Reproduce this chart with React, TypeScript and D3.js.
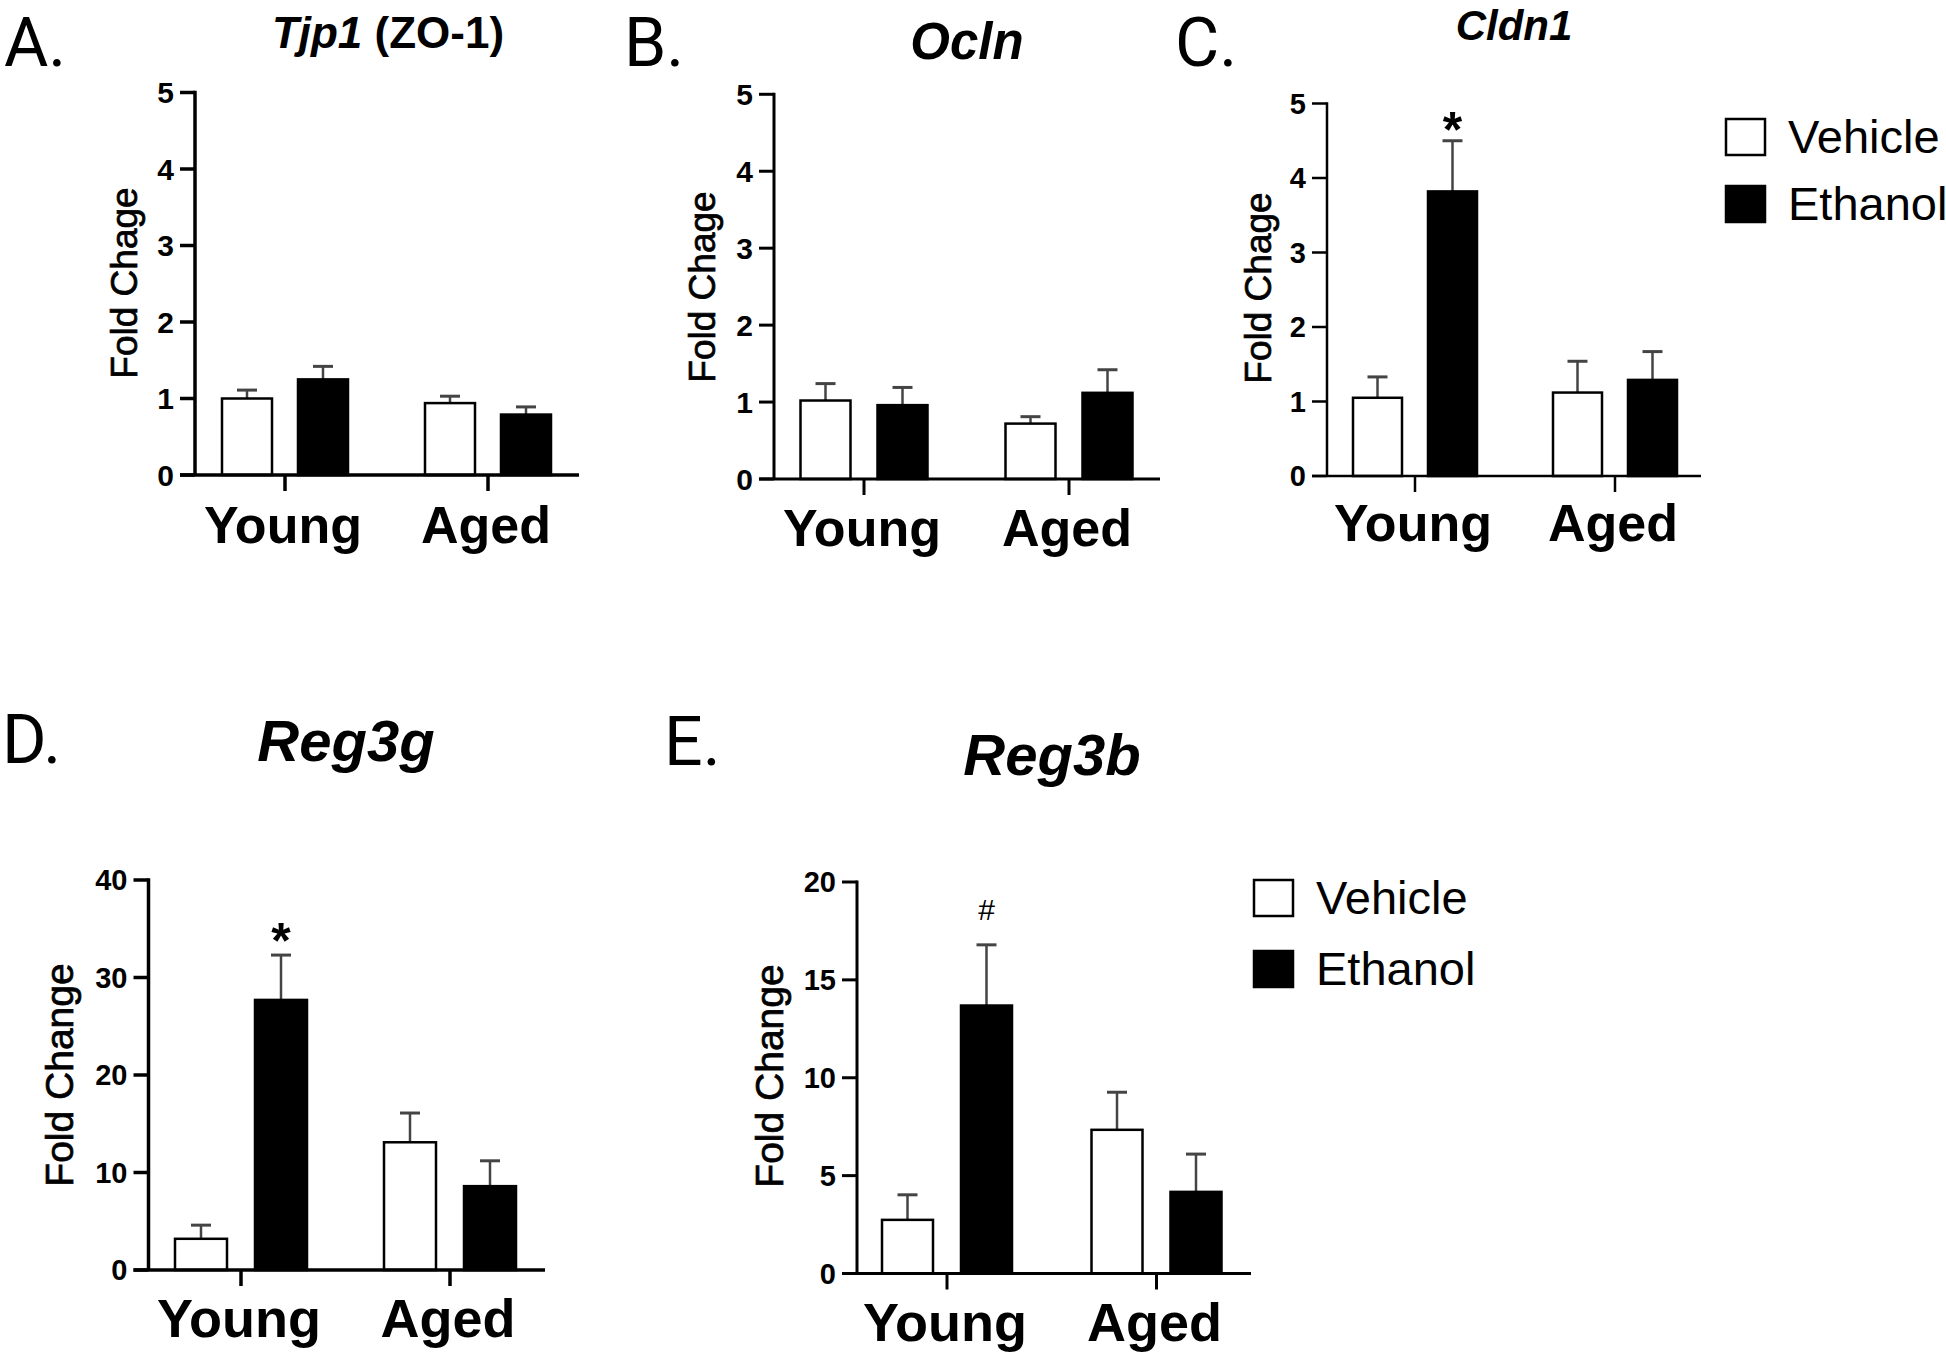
import React from "react";
import * as d3 from "d3";

// ---------- data ----------
const groups = ["Young", "Aged"];
const treatments = ["Vehicle", "Ethanol"];

const tjp1Vehicle = [1.0, 0.94];
const tjp1VehicleErr = [0.11, 0.09];
const tjp1Ethanol = [1.25, 0.79];
const tjp1EthanolErr = [0.17, 0.1];

const oclnVehicle = [1.02, 0.72];
const oclnVehicleErr = [0.22, 0.09];
const oclnEthanol = [0.96, 1.12];
const oclnEthanolErr = [0.23, 0.3];

const cldn1Vehicle = [1.05, 1.12];
const cldn1VehicleErr = [0.28, 0.42];
const cldn1Ethanol = [3.82, 1.29];
const cldn1EthanolErr = [0.68, 0.38];

const reg3gVehicle = [3.2, 13.1];
const reg3gVehicleErr = [1.4, 3.0];
const reg3gEthanol = [27.7, 8.6];
const reg3gEthanolErr = [4.6, 2.6];

const reg3bVehicle = [2.74, 7.34];
const reg3bVehicleErr = [1.28, 1.92];
const reg3bEthanol = [13.69, 4.17];
const reg3bEthanolErr = [3.1, 1.93];

const ticksSmall = [0, 1, 2, 3, 4, 5];
const ticksReg3g = [0, 10, 20, 30, 40];
const ticksReg3b = [0, 5, 10, 15, 20];

// ---------- styles ----------
const ARIAL = "'Liberation Sans', Arial, sans-serif";
const NARROW = "'Liberation Sans Narrow', 'Arial Narrow', 'Liberation Sans', Arial, sans-serif";
const LETTER = "Roboto, 'DejaVu Sans', sans-serif";
const ERR_COLOR = "#444";

type PanelProps = {
  vehicle: number[];
  vehicleErr: number[];
  ethanol: number[];
  ethanolErr: number[];
  ticks: number[];
  yLabel: string;
  axisX: number;
  y0: number;
  yTop: number;
  xRight: number;
  centers: [number, number];
  offset: number;
  barW: number;
  tickFont: number;
  catFont: number;
  catBaseline: number;
  labelX: number;
  labelY: number;
  labelFont: number;
  axisW: number;
  mark?: { text: string; series: number; group: number; font: number; weight: string; gap: number };
};

function Panel(p: PanelProps) {
  const y = d3
    .scaleLinear()
    .domain([0, p.ticks[p.ticks.length - 1]])
    .range([p.y0, p.yTop]);
  const xg = d3.scalePoint<string>().domain(groups).range(p.centers);
  const span = p.offset + p.barW / 2;
  const inner = d3
    .scaleBand<string>()
    .domain(treatments)
    .range([-span, span])
    .paddingInner((2 * p.offset - p.barW) / (2 * p.offset))
    .paddingOuter(0);
  const series = [
    { name: "Vehicle", values: p.vehicle, errs: p.vehicleErr, fill: "#fff" },
    { name: "Ethanol", values: p.ethanol, errs: p.ethanolErr, fill: "#000" },
  ];
  const tickLen = 15;
  const capW = 20;
  return (
    <g>
      {series.map((s) =>
        groups.map((g, gi) => {
          const x0 = (xg(g) as number) + (inner(s.name) as number);
          const bw = inner.bandwidth();
          const top = y(s.values[gi]);
          const errTop = y(s.values[gi] + s.errs[gi]);
          const cx = x0 + bw / 2;
          return (
            <g key={s.name + g}>
              <line x1={cx} x2={cx} y1={top} y2={errTop} stroke={ERR_COLOR} strokeWidth={2.5} />
              <line x1={cx - capW / 2} x2={cx + capW / 2} y1={errTop} y2={errTop} stroke={ERR_COLOR} strokeWidth={3} />
              <rect
                x={x0}
                y={top}
                width={bw}
                height={p.y0 - top}
                fill={s.fill}
                stroke="#000"
                strokeWidth={2.5}
              />
            </g>
          );
        })
      )}
      {p.mark &&
        (() => {
          const s = series[p.mark.series];
          const g = groups[p.mark.group];
          const cx = (xg(g) as number) + (inner(s.name) as number) + inner.bandwidth() / 2;
          const yy = y(s.values[p.mark.group] + s.errs[p.mark.group]) - p.mark.gap;
          return (
            <text x={cx} y={yy} textAnchor="middle" fontFamily={ARIAL} fontSize={p.mark.font} fontWeight={p.mark.weight}>
              {p.mark.text}
            </text>
          );
        })()}
      {/* y axis */}
      <line x1={p.axisX} x2={p.axisX} y1={p.y0} y2={y(p.ticks[p.ticks.length - 1]) - p.axisW / 2} stroke="#000" strokeWidth={p.axisW} />
      {p.ticks.map((t) => (
        <g key={t}>
          <line x1={p.axisX - tickLen} x2={p.axisX} y1={y(t)} y2={y(t)} stroke="#000" strokeWidth={p.axisW} />
          <text
            x={p.axisX - 21}
            y={y(t)}
            dy="0.36em"
            textAnchor="end"
            fontFamily={NARROW}
            fontWeight="bold"
            fontSize={p.tickFont}
          >
            {t}
          </text>
        </g>
      ))}
      {/* x axis */}
      <line x1={p.axisX - tickLen} x2={p.xRight} y1={p.y0} y2={p.y0} stroke="#000" strokeWidth={p.axisW} />
      {groups.map((g) => (
        <g key={g}>
          <line x1={xg(g)} x2={xg(g)} y1={p.y0} y2={p.y0 + 16} stroke="#000" strokeWidth={p.axisW} />
          <text
            x={(xg(g) as number) - 2}
            y={p.catBaseline}
            textAnchor="middle"
            fontFamily={ARIAL}
            fontWeight="bold"
            fontSize={p.catFont}
          >
            {g}
          </text>
        </g>
      ))}
      <text
        transform={`translate(${p.labelX},${p.labelY}) rotate(-90)`}
        textAnchor="middle"
        fontFamily={ARIAL}
        fontSize={p.labelFont}
        stroke="#000"
        strokeWidth={0.7}
      >
        {p.yLabel}
      </text>
    </g>
  );
}

function Legend({ x, y, gap }: { x: number; y: number; gap: number }) {
  return (
    <g>
      {treatments.map((t, i) => (
        <g key={t}>
          <rect
            x={x}
            y={y + i * gap}
            width={39}
            height={36}
            fill={i === 0 ? "#fff" : "#000"}
            stroke="#000"
            strokeWidth={2.5}
          />
          <text x={x + 62} y={y + i * gap + 34} fontFamily={ARIAL} fontSize={47}>
            {t}
          </text>
        </g>
      ))}
    </g>
  );
}

export default function App() {
  return (
    <svg
      width={1946}
      height={1357}
      style={{ position: "absolute", left: 0, top: 0, background: "#fff" }}
    >
      <rect width={1946} height={1357} fill="#fff" />
      {/* panel letters */}
      <text x={4} y={66} fontFamily={LETTER} fontSize={68}>A.</text>
      <text x={624} y={66} fontFamily={LETTER} fontSize={68}>B.</text>
      <text x={1175} y={66} fontFamily={LETTER} fontSize={68}>C.</text>
      <text x={2} y={763} fontFamily={LETTER} fontSize={68}>D.</text>
      <text x={664} y={765} fontFamily={LETTER} fontSize={68}>E.</text>

      {/* titles */}
      <text x={388} y={48} textAnchor="middle" fontFamily={ARIAL} fontWeight="bold" fontSize={44}>
        <tspan fontStyle="italic">Tjp1</tspan>
        <tspan> (ZO-1)</tspan>
      </text>
      <text x={967} y={59} textAnchor="middle" fontFamily={ARIAL} fontWeight="bold" fontStyle="italic" fontSize={51}>
        Ocln
      </text>
      <text x={1514} y={40} textAnchor="middle" fontFamily={ARIAL} fontWeight="bold" fontStyle="italic" fontSize={42}>
        Cldn1
      </text>
      <text x={346} y={761} textAnchor="middle" fontFamily={ARIAL} fontWeight="bold" fontStyle="italic" fontSize={58}>
        Reg3g
      </text>
      <text x={1052} y={775} textAnchor="middle" fontFamily={ARIAL} fontWeight="bold" fontStyle="italic" fontSize={58}>
        Reg3b
      </text>

      <Panel
        vehicle={tjp1Vehicle}
        vehicleErr={tjp1VehicleErr}
        ethanol={tjp1Ethanol}
        ethanolErr={tjp1EthanolErr}
        ticks={ticksSmall}
        yLabel="Fold Chage"
        axisX={195}
        y0={475}
        yTop={92.5}
        xRight={579}
        centers={[285, 488]}
        offset={38}
        barW={50}
        tickFont={30}
        catFont={52}
        catBaseline={543}
        labelX={137}
        labelY={283}
        labelFont={37}
        axisW={3.5}
      />
      <Panel
        vehicle={oclnVehicle}
        vehicleErr={oclnVehicleErr}
        ethanol={oclnEthanol}
        ethanolErr={oclnEthanolErr}
        ticks={ticksSmall}
        yLabel="Fold Chage"
        axisX={774}
        y0={479}
        yTop={94.3}
        xRight={1160}
        centers={[864, 1069]}
        offset={38.5}
        barW={50}
        tickFont={30}
        catFont={52}
        catBaseline={546}
        labelX={715}
        labelY={287}
        labelFont={37}
        axisW={3}
      />
      <Panel
        vehicle={cldn1Vehicle}
        vehicleErr={cldn1VehicleErr}
        ethanol={cldn1Ethanol}
        ethanolErr={cldn1EthanolErr}
        ticks={ticksSmall}
        yLabel="Fold Chage"
        axisX={1327}
        y0={476}
        yTop={103.5}
        xRight={1701}
        centers={[1415, 1615]}
        offset={37.5}
        barW={49}
        tickFont={29}
        catFont={52}
        catBaseline={541}
        labelX={1271}
        labelY={288}
        labelFont={37}
        axisW={2.5}
        mark={{ text: "*", series: 1, group: 0, font: 50, weight: "bold", gap: -6 }}
      />
      <Legend x={1726} y={119} gap={67} />

      <Panel
        vehicle={reg3gVehicle}
        vehicleErr={reg3gVehicleErr}
        ethanol={reg3gEthanol}
        ethanolErr={reg3gEthanolErr}
        ticks={ticksReg3g}
        yLabel="Fold Change"
        axisX={148.5}
        y0={1270}
        yTop={880}
        xRight={545}
        centers={[241, 450]}
        offset={40}
        barW={52}
        tickFont={29}
        catFont={54}
        catBaseline={1337}
        labelX={73}
        labelY={1075}
        labelFont={39}
        axisW={3.5}
        mark={{ text: "*", series: 1, group: 0, font: 50, weight: "bold", gap: -3 }}
      />
      <Panel
        vehicle={reg3bVehicle}
        vehicleErr={reg3bVehicleErr}
        ethanol={reg3bEthanol}
        ethanolErr={reg3bEthanolErr}
        ticks={ticksReg3b}
        yLabel="Fold Change"
        axisX={857}
        y0={1273.5}
        yTop={882}
        xRight={1251}
        centers={[947, 1156.5]}
        offset={39.5}
        barW={51}
        tickFont={29}
        catFont={54}
        catBaseline={1341}
        labelX={783}
        labelY={1076}
        labelFont={39}
        axisW={3}
        mark={{ text: "#", series: 1, group: 0, font: 30, weight: "normal", gap: 25 }}
      />
      <Legend x={1254} y={880} gap={71} />
    </svg>
  );
}
